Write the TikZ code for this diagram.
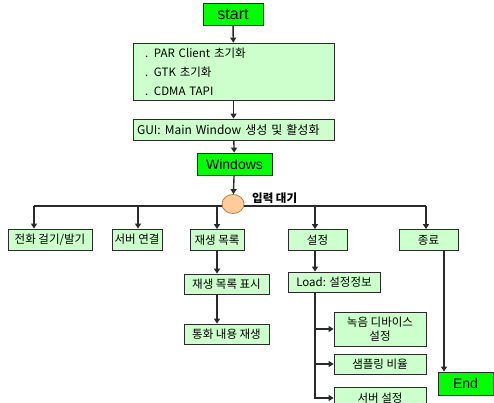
\documentclass[tikz,border=0pt]{standalone}
\usepackage{fontspec}
\setmainfont{Noto Sans CJK KR}
\newfontfamily\lat{Liberation Sans}
\usetikzlibrary{arrows.meta,shapes.geometric}
\definecolor{lgreen}{HTML}{CCFFCC}
\definecolor{bgreen}{HTML}{00FF00}
\definecolor{lnc}{HTML}{2A2A2A}
\definecolor{peach}{HTML}{FFCC99}
\definecolor{peachd}{HTML}{B08050}
\begin{document}
\begin{tikzpicture}[x=1pt,y=-1pt,
  box/.style={draw=lnc, fill=lgreen, line width=0.8pt, inner sep=0pt, minimum height=21pt, font=\fontsize{11.5}{13}\selectfont},
  gbox/.style={draw=lnc, fill=bgreen, line width=0.8pt, inner sep=0pt, font=\lat\fontsize{14}{16}\selectfont},
  wire/.style={draw=lnc, line width=1.4pt},
  arr/.style={wire, -{Triangle[width=6pt,length=5pt]}}]
\useasboundingbox (0,0) rectangle (494,403);
\clip (0,0) rectangle (494,403);
% top chain
\node[gbox, minimum width=60pt, minimum height=22pt, font=\lat\fontsize{16}{18}\selectfont] (start) at (233,14) {start};
\node[box, minimum width=201pt, minimum height=57pt, text width=177pt, align=left, font=\fontsize{11.5}{19}\selectfont] (init) at (233.5,71.5) {. PAR Client 초기화\\. GTK 초기화\\. CDMA TAPI};
\node[box, minimum width=201pt, text width=193pt, align=left, font=\fontsize{12}{14}\selectfont] (gui) at (233.5,129.5) {GUI: Main Window 생성 및 활성화};
\node[gbox, minimum width=75pt, minimum height=22pt] (win) at (234.5,164) {Windows};
% children
\node[box, minimum width=84pt] (call) at (50,239.5) {전화 걸기/발기};
\node[box, minimum width=50pt] (srv) at (137,239.5) {서버 연결};
\node[box, minimum width=54pt] (play) at (217,240) {재생 목록};
\node[box, minimum width=59pt] (set) at (317.5,240) {설정};
\node[box, minimum width=59pt] (quit) at (428.5,240) {종료};
\node[box, minimum width=85pt, minimum height=20pt] (list) at (226.5,284) {재생 목록 표시};
\node[box, minimum width=85pt, minimum height=20pt] (replay) at (226.5,334) {통화 내용 재생};
\node[box, minimum width=92pt, minimum height=20pt] (load) at (334,282) {Load: 설정정보};
\node[box, minimum width=92pt, minimum height=34pt, align=center, font=\fontsize{11.5}{14.5}\selectfont] (rec) at (380,329) {녹음 디바이스\\설정};
\node[box, minimum width=92pt, minimum height=20pt] (samp) at (380,364) {샘플링 비율};
\node[box, minimum width=92pt, minimum height=22pt] (srvset) at (380,398) {서버 설정};
\node[gbox, minimum width=55pt, minimum height=23pt] (end) at (465.5,383.5) {End};
% bus
\coordinate (busL) at (34,206);
\coordinate (busR) at (426,206);
\draw[wire] (busL) -- (busR);
\node[ellipse, draw=peachd, fill=peach, line width=0.8pt, minimum width=22pt, minimum height=19pt, inner sep=0pt] (hub) at (233,204) {};
\node[anchor=west, inner sep=0pt, font=\bfseries\fontsize{11.5}{13}\selectfont] (wait) at (252,198) {입력 대기};
% connectors
\draw[arr] (start) -- (init);
\draw[arr] (init) -- (gui);
\draw[arr] (gui) -- (win);
\draw[arr] (win) -- (hub);
\draw[arr] (busL) -- (busL |- call.north);
\draw[arr] ([xshift=1pt]srv.north |- busL) -- ([xshift=1pt]srv.north);
\draw[arr] (play.north |- busL) -- (play.north);
\draw[arr] ([xshift=-2.5pt]set.north |- busL) -- ([xshift=-2.5pt]set.north);
\draw[arr] (busR) -- (busR |- quit.north);
\draw[arr] (play.south) -- (play.south |- list.north);
\draw[arr] (list.south -| play.south) -- (replay.north -| play.south);
\draw[arr] ([xshift=-2.5pt]set.south) -- ([xshift=-2.5pt]set.south |- load.north);
\coordinate (trunk) at (315,399);
\draw[arr] (load.south -| trunk) |- (srvset.west);
\draw[arr] (rec.west -| trunk) -- (rec.west);
\draw[arr] (samp.west -| trunk) -- (samp.west);
\draw[arr] ([xshift=15.5pt]quit.south) -- ([xshift=15.5pt]quit.south |- end.north);
\end{tikzpicture}
\end{document}
